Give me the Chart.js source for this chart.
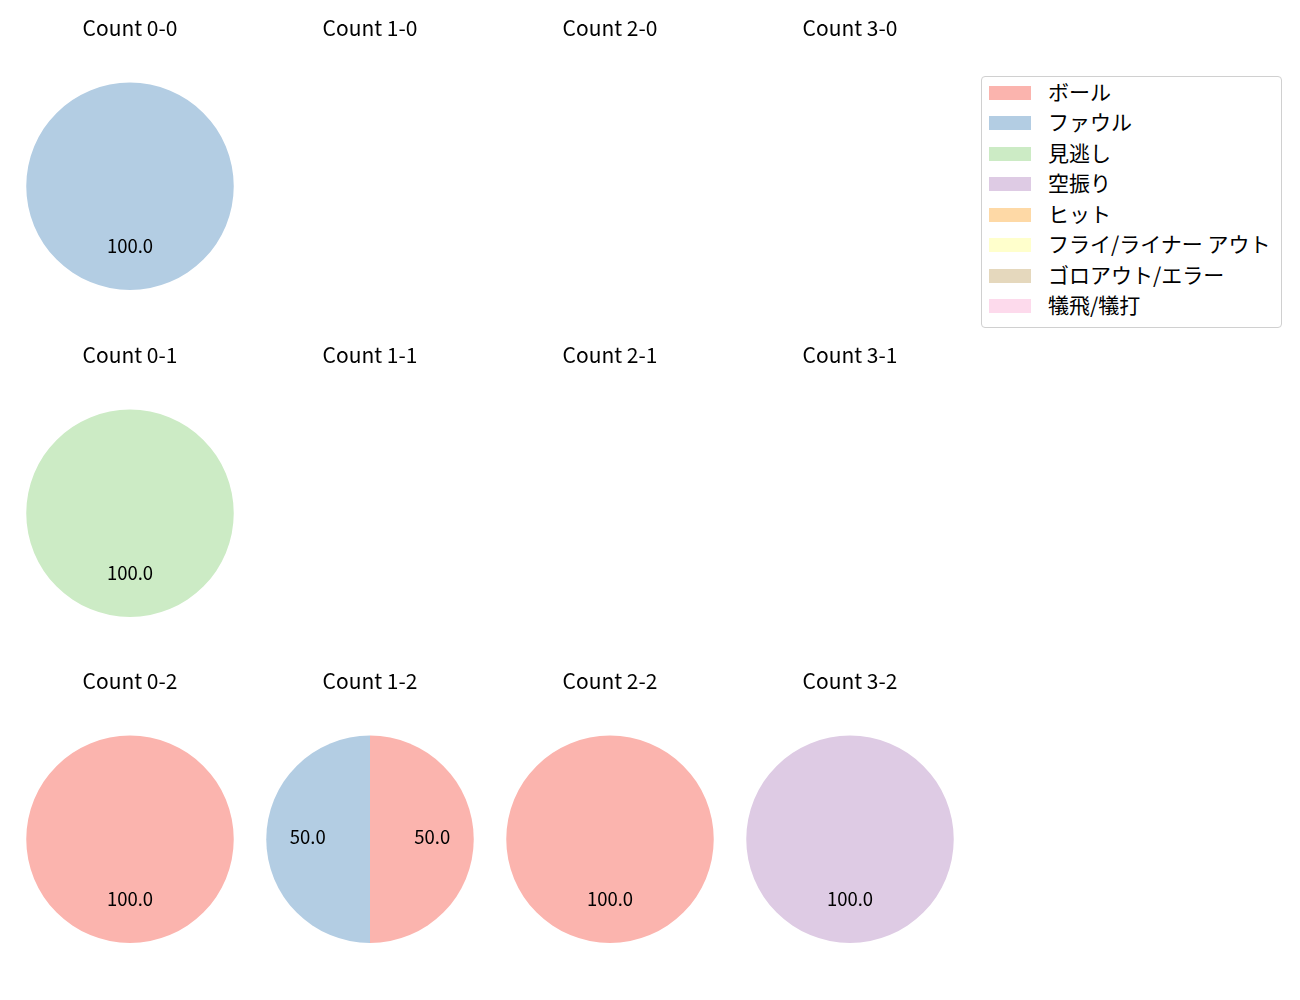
<!DOCTYPE html>
<html>
<head>
<meta charset="utf-8">
<script src="https://cdn.jsdelivr.net/npm/chart.js@4/dist/chart.umd.min.js"></script>
<style>
  html, body { margin: 0; padding: 0; background: #fff; }
  body { width: 1300px; height: 1000px; position: relative; overflow: hidden; font-family: "Noto Sans CJK JP", "Noto Sans", sans-serif; }
  .cell { position: absolute; width: 240px; height: 290px; }
  #legend { position: absolute; left: 981px; top: 76px; width: 301px; height: 252px; border: 1px solid #d0d0d0; border-radius: 4px; background: #fff; box-sizing: border-box; }
  .item { position: absolute; left: 7px; height: 20px; display: flex; align-items: center; font-size: 21px; color: #000; white-space: nowrap; }
  .sw { width: 42px; height: 14px; margin-right: 17px; flex: none; }
  .tx { position: relative; top: -2px; }
</style>
</head>
<body>
<div id="legend"></div>
<script>
// ---- data ----
const categories = ['ボール', 'ファウル', '見逃し', '空振り', 'ヒット', 'フライ/ライナー アウト', 'ゴロアウト/エラー', '犠飛/犠打'];
const colors = ['#fbb4ae', '#b3cde3', '#ccebc5', '#decbe4', '#fed9a6', '#ffffcc', '#e5d8bd', '#fddaec'];
const balls = [0, 1, 2, 3];
const strikes = [0, 1, 2];
const count00 = [0, 100, 0, 0, 0, 0, 0, 0];
const count10 = [0, 0, 0, 0, 0, 0, 0, 0];
const count20 = [0, 0, 0, 0, 0, 0, 0, 0];
const count30 = [0, 0, 0, 0, 0, 0, 0, 0];
const count01 = [0, 0, 100, 0, 0, 0, 0, 0];
const count11 = [0, 0, 0, 0, 0, 0, 0, 0];
const count21 = [0, 0, 0, 0, 0, 0, 0, 0];
const count31 = [0, 0, 0, 0, 0, 0, 0, 0];
const count02 = [100, 0, 0, 0, 0, 0, 0, 0];
const count12 = [50, 50, 0, 0, 0, 0, 0, 0];
const count22 = [100, 0, 0, 0, 0, 0, 0, 0];
const count32 = [0, 0, 0, 100, 0, 0, 0, 0];
const countData = {
  '0-0': count00, '1-0': count10, '2-0': count20, '3-0': count30,
  '0-1': count01, '1-1': count11, '2-1': count21, '3-1': count31,
  '0-2': count02, '1-2': count12, '2-2': count22, '3-2': count32
};

// ---- label plugin ----
const pctLabels = {
  id: 'pctLabels',
  afterDatasetsDraw(chart) {
    const ctx = chart.ctx;
    const meta = chart.getDatasetMeta(0);
    const data = chart.data.datasets[0].data;
    ctx.save();
    ctx.font = '18.5px "Noto Sans CJK JP", "Noto Sans", sans-serif';
    ctx.fillStyle = '#000';
    ctx.textAlign = 'center';
    ctx.textBaseline = 'middle';
    meta.data.forEach((arc, i) => {
      if (!data[i]) return;
      const p = arc.getProps(['x', 'y', 'startAngle', 'endAngle', 'outerRadius'], true);
      const mid = (p.startAngle + p.endAngle) / 2;
      const r = p.outerRadius * 0.6;
      ctx.fillText(data[i].toFixed(1), p.x + Math.cos(mid) * r, p.y + Math.sin(mid) * r - 2.5);
    });
    ctx.restore();
  }
};

// ---- build cells ----
strikes.forEach((s, row) => {
  balls.forEach((b, col) => {
    const key = b + '-' + s;
    const div = document.createElement('div');
    div.className = 'cell';
    div.style.left = (9.5 + col * 240) + 'px';
    div.style.top = (row * 326.5) + 'px';
    const cv = document.createElement('canvas');
    div.appendChild(cv);
    document.body.appendChild(div);
    new Chart(cv, {
      type: 'pie',
      data: {
        labels: categories,
        datasets: [{ data: countData[key], backgroundColor: colors, borderWidth: 0 }]
      },
      options: {
        responsive: true,
        maintainAspectRatio: false,
        animation: false,
        layout: { padding: 0 },
        plugins: {
          legend: { display: false },
          tooltip: { enabled: false },
          title: {
            display: true,
            text: 'Count ' + key,
            color: '#000',
            font: { family: '"Noto Sans CJK JP", "Noto Sans", sans-serif', size: 21, weight: 'normal', lineHeight: 1.2 },
            padding: { top: 15.9, bottom: 41.4 }
          }
        }
      },
      plugins: [pctLabels]
    });
  });
});

// ---- legend ----
const leg = document.getElementById('legend');
categories.forEach((c, i) => {
  const it = document.createElement('div');
  it.className = 'item';
  it.style.top = (5.5 + i * 30.5) + 'px';
  const sw = document.createElement('span');
  sw.className = 'sw';
  sw.style.background = colors[i];
  const tx = document.createElement('span');
  tx.className = 'tx';
  tx.textContent = c;
  it.appendChild(sw);
  it.appendChild(tx);
  leg.appendChild(it);
});
</script>
</body>
</html>
